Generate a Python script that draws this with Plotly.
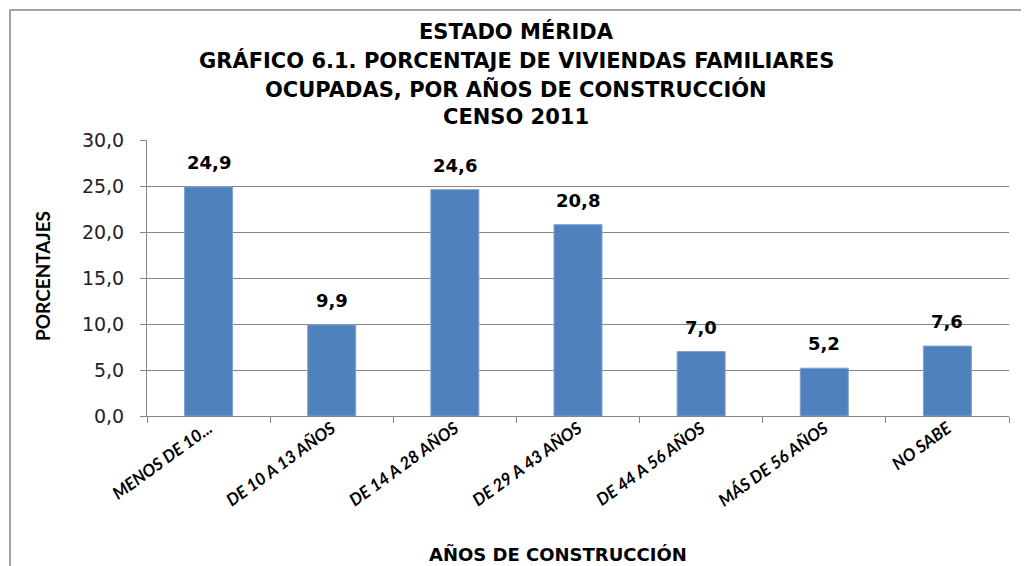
import plotly.graph_objects as go

categories = ["MENOS DE 10...", "DE 10 A 13 AÑOS", "DE 14 A 28 AÑOS", "DE 29 A 43 AÑOS",
              "DE 44 A 56 AÑOS", "MÁS DE 56 AÑOS", "NO SABE"]
values = [24.9, 9.9, 24.6, 20.8, 7.0, 5.2, 7.6]
y_ticks = [0, 5, 10, 15, 20, 25, 30]

title_lines = ["ESTADO MÉRIDA", "GRÁFICO 6.1. PORCENTAJE DE VIVIENDAS FAMILIARES",
               "OCUPADAS, POR AÑOS DE CONSTRUCCIÓN", "CENSO 2011"]
x_title = "AÑOS DE CONSTRUCCIÓN"
y_title = "PORCENTAJES"

O = 8  # page body margin offset
W, H = 1029 - O, 566 - O
L, R, T, B = 147 - O, W - (1009 - O), 140 - O, H - (416 - O)
pw, ph = W - L - R, H - T - B

def px(x):
    return (x - O - L) / pw

def py(y):
    return (H - B - (y - O)) / ph

wide = "DejaVu Sans, Verdana, sans-serif"
hum = "Lato, Open Sans, sans-serif"

fig = go.Figure()
fig.add_trace(go.Bar(
    x=categories, y=values,
    marker=dict(color="#4F81BD", line=dict(color="#7FA3D4", width=1)),
    hoverinfo="x+y",
))

annotations = [
    dict(x=c, y=v, xref="x", yref="y", text=f"<b>{v:.1f}</b>".replace(".", ","),
         showarrow=False, yanchor="bottom", yshift=12,
         font=dict(family=wide, size=18, color="black"))
    for c, v in zip(categories, values)
]
for i, (t, yy) in enumerate(zip(title_lines, [31, 60, 89, 117])):
    annotations.append(dict(x=px(516), y=py(yy), xref="paper", yref="paper",
                            text=f"<b>{t}</b>", showarrow=False,
                            xanchor="center", yanchor="middle",
                            font=dict(family=wide, size=21, color="black")))
annotations.append(dict(x=px(558), y=py(554), xref="paper", yref="paper",
                        text=f"<b>{x_title}</b>", showarrow=False,
                        xanchor="center", yanchor="middle",
                        font=dict(family=wide, size=18, color="black")))
annotations.append(dict(x=px(42), y=py(276), xref="paper", yref="paper",
                        text=f"<b>{y_title}</b>", showarrow=False, textangle=-90,
                        xanchor="center", yanchor="middle",
                        font=dict(family=hum, size=19, color="black")))

fig.update_layout(
    width=W, height=H,
    margin=dict(l=L, r=R, t=T, b=B),
    paper_bgcolor="white", plot_bgcolor="white",
    bargap=0.61, showlegend=False,
    separators=",.",
    xaxis=dict(showline=True, linecolor="#868686", linewidth=1,
               ticks="outside", ticklen=6, tickcolor="#868686",
               tickson="boundaries", tickangle=-36, ticklabelstandoff=-5,
               tickfont=dict(family=hum, size=17, color="black", style="italic", weight="bold")),
    yaxis=dict(range=[0, 30], tickvals=y_ticks, tickformat=".1f",
               showgrid=True, gridcolor="#868686", gridwidth=1,
               showline=True, linecolor="#868686", linewidth=1,
               ticks="outside", ticklen=6, tickcolor="#868686",
               ticklabelstandoff=12,
               tickfont=dict(family=wide, size=19, color="#222222")),
    annotations=annotations,
    shapes=[dict(type="rect", xref="paper", yref="paper",
                 x0=px(10), x1=px(1022), y0=py(590), y1=py(10),
                 line=dict(color="#868686", width=1.5), layer="below")],
)

fig.write_html("out.html")
